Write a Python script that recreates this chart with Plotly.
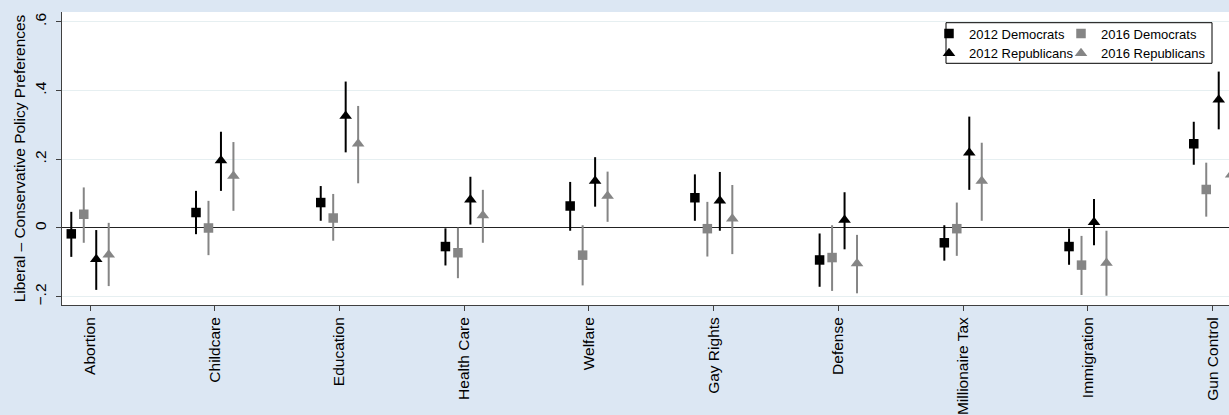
import plotly.graph_objects as go

categories = ["Abortion", "Childcare", "Education", "Health Care", "Welfare",
              "Gay Rights", "Defense", "Millionaire Tax", "Immigration", "Gun Control"]

dem12 = [-0.017, 0.045, 0.074, -0.054, 0.064, 0.088, -0.093, -0.043, -0.054, 0.245]
dem12_lo = [-0.084, -0.018, 0.021, -0.109, -0.008, 0.021, -0.171, -0.095, -0.107, 0.184]
dem12_hi = [0.047, 0.108, 0.122, -0.001, 0.134, 0.156, -0.016, 0.008, -0.002, 0.309]

dem16 = [0.040, 0.000, 0.029, -0.072, -0.079, -0.002, -0.086, -0.002, -0.108, 0.112]
dem16_lo = [-0.043, -0.079, -0.037, -0.146, -0.167, -0.083, -0.183, -0.081, -0.195, 0.033]
dem16_hi = [0.118, 0.079, 0.099, 0.001, 0.008, 0.076, 0.008, 0.074, -0.023, 0.190]

rep12 = [-0.091, 0.196, 0.326, 0.082, 0.137, 0.079, 0.023, 0.219, 0.017, 0.373]
rep12_lo = [-0.180, 0.108, 0.220, 0.010, 0.062, -0.008, -0.062, 0.111, -0.050, 0.287]
rep12_hi = [-0.006, 0.280, 0.426, 0.149, 0.206, 0.163, 0.104, 0.324, 0.084, 0.455]

rep16 = [-0.078, 0.151, 0.245, 0.036, 0.093, 0.027, -0.103, 0.137, -0.102, 0.155]
rep16_lo = [-0.169, 0.050, 0.130, -0.043, 0.018, -0.076, -0.190, 0.021, -0.197, 0.060]
rep16_hi = [0.015, 0.250, 0.355, 0.111, 0.164, 0.125, -0.020, 0.248, -0.008, 0.250]

y_tickvals = [-0.2, 0, 0.2, 0.4, 0.6]
y_ticktext = ["\u2212.2", "0", ".2", ".4", ".6"]

FONT = "Liberation Sans, Arial, Helvetica, sans-serif"
BLACK = "#000000"
GRAY = "#858585"
BG = "#dce7f3"

series = [
    ("2012 Democrats", dem12, dem12_lo, dem12_hi, "square", BLACK, -0.15, "legend", 9.5),
    ("2016 Democrats", dem16, dem16_lo, dem16_hi, "square", GRAY, -0.05, "legend2", 9.5),
    ("2012 Republicans", rep12, rep12_lo, rep12_hi, "triangle-up", BLACK, 0.05, "legend", 11),
    ("2016 Republicans", rep16, rep16_lo, rep16_hi, "triangle-up", GRAY, 0.15, "legend2", 11),
]

fig = go.Figure()
for name, est, lo, hi, sym, col, off, leg, size in series:
    xs = [i + off for i in range(len(categories))]
    fig.add_trace(go.Scatter(
        x=xs, y=est, mode="markers", name=name, legend=leg,
        marker=dict(symbol=sym, color=col, size=size, line=dict(width=0)),
        error_y=dict(type="data", symmetric=False,
                     array=[h - e for h, e in zip(hi, est)],
                     arrayminus=[e - l for e, l in zip(est, lo)],
                     width=0, thickness=2, color=col),
    ))

W, H = 1229, 415
ml, mr, mt, mb = 62, 0, 12, 110
pw = W - ml - mr
ph = H - mt - mb

def px_x(p):
    return (p - ml) / pw

def px_y(p):
    return 1 - (p - mt) / ph

legend_common = dict(xanchor="left", yanchor="top", bgcolor="rgba(0,0,0,0)",
                     borderwidth=0, font=dict(size=13), tracegroupgap=0, itemwidth=30)

fig.update_layout(
    width=W, height=H,
    margin=dict(l=ml, r=mr, t=mt, b=mb, pad=0, autoexpand=False),
    paper_bgcolor=BG, plot_bgcolor="white",
    font=dict(family=FONT, size=15.5, color="black"),
    showlegend=True,
    legend=dict(x=px_x(929), y=px_y(18.5), **legend_common),
    legend2=dict(x=px_x(1061), y=px_y(18.5), **legend_common),
    shapes=[dict(type="rect", xref="paper", yref="paper",
                 x0=px_x(946), x1=px_x(1212), y0=px_y(63.3), y1=px_y(22.7),
                 line=dict(color="black", width=1), fillcolor="rgba(0,0,0,0)",
                 layer="above")],
    xaxis=dict(
        automargin=False,
        range=[-0.2245, -0.2245 + pw / 124.72],
        tickmode="array", tickvals=list(range(len(categories))), ticktext=categories,
        tickangle=-90, ticks="outside", ticklen=5, tickcolor="#404040",
        showline=True, linecolor="#404040", linewidth=1,
        showgrid=False, zeroline=False,
        tickfont=dict(size=15.5),
    ),
    yaxis=dict(
        automargin=False,
        range=[-0.224, 0.6283],
        tickmode="array", tickvals=y_tickvals, ticktext=y_ticktext,
        tickangle=-90, ticks="outside", ticklen=5, tickcolor="#404040",
        ticklabelstandoff=4,
        showline=True, linecolor="#404040", linewidth=1,
        showgrid=True, gridcolor="#e6eff1", gridwidth=1,
        zeroline=True, zerolinecolor="#222222", zerolinewidth=1.3,
        title=dict(text="Liberal \u2013 Conservative Policy Preferences",
                   font=dict(size=15.5), standoff=2),
        tickfont=dict(size=15.5),
    ),
)

fig.write_html(
    "out.html",
    config={"displayModeBar": False},
    post_script="document.body.style.margin='0';document.body.style.overflow='hidden';",
)
